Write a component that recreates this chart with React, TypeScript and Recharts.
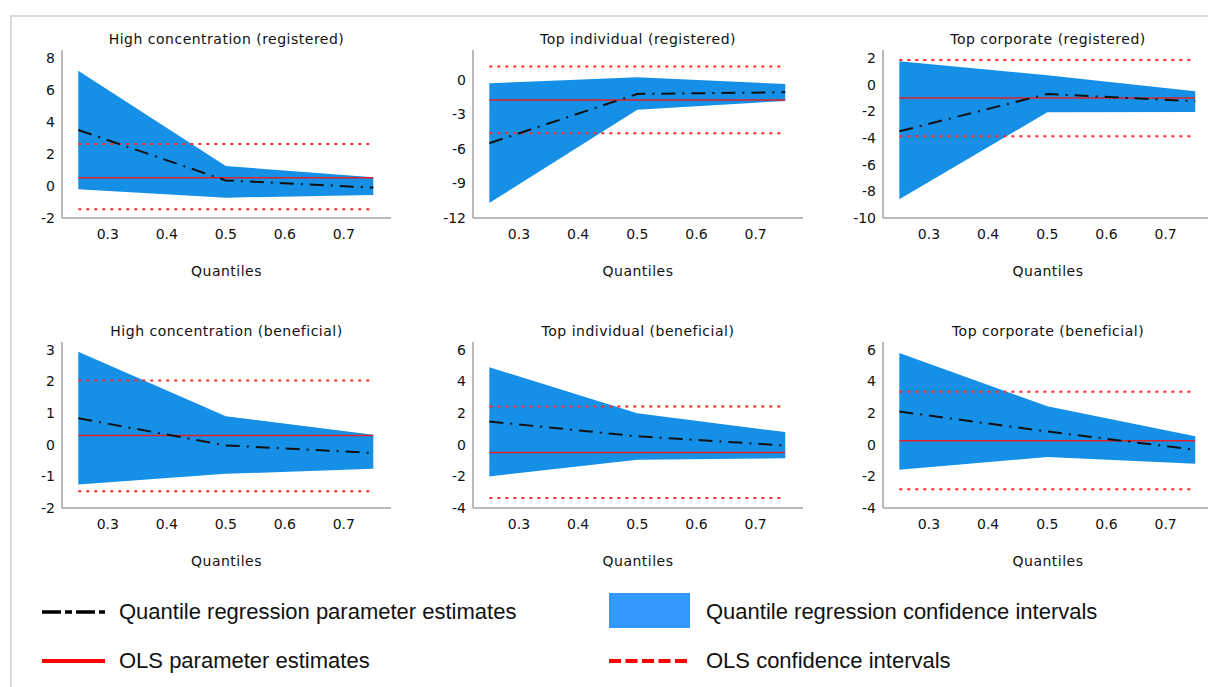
import * as React from 'react';
import { ComposedChart, Area, Line, XAxis, YAxis } from 'recharts';

// quantiles on the x axis
const quantiles = [0.25, 0.5, 0.75];
const xTicks = [0.3, 0.4, 0.5, 0.6, 0.7];

// High concentration (registered)
const hcRegEst = [3.5, 0.35, -0.1];
const hcRegLow = [-0.2, -0.73, -0.56];
const hcRegHigh = [7.2, 1.25, 0.55];
const hcRegOls = 0.52;
const hcRegOlsCi = [-1.46, 2.62];
const hcRegTicks = [-2, 0, 2, 4, 6, 8];

// Top individual (registered)
const tiRegEst = [-5.5, -1.22, -1.07];
const tiRegLow = [-10.7, -2.6, -1.83];
const tiRegHigh = [-0.29, 0.23, -0.35];
const tiRegOls = -1.74;
const tiRegOlsCi = [-4.64, 1.16];
const tiRegTicks = [-12, -9, -6, -3, 0];

// Top corporate (registered)
const tcRegEst = [-3.5, -0.7, -1.25];
const tcRegLow = [-8.6, -2.07, -2.05];
const tcRegHigh = [1.75, 0.7, -0.5];
const tcRegOls = -1.0;
const tcRegOlsCi = [-3.87, 1.85];
const tcRegTicks = [-10, -8, -6, -4, -2, 0, 2];

// High concentration (beneficial)
const hcBenEst = [0.84, -0.02, -0.26];
const hcBenLow = [-1.26, -0.92, -0.76];
const hcBenHigh = [2.94, 0.9, 0.32];
const hcBenOls = 0.29;
const hcBenOlsCi = [-1.47, 2.03];
const hcBenTicks = [-2, -1, 0, 1, 2, 3];

// Top individual (beneficial)
const tiBenEst = [1.47, 0.54, -0.05];
const tiBenLow = [-2.0, -0.95, -0.85];
const tiBenHigh = [4.9, 2.0, 0.8];
const tiBenOls = -0.49;
const tiBenOlsCi = [-3.37, 2.42];
const tiBenTicks = [-4, -2, 0, 2, 4, 6];

// Top corporate (beneficial)
const tcBenEst = [2.1, 0.84, -0.32];
const tcBenLow = [-1.58, -0.78, -1.2];
const tcBenHigh = [5.8, 2.44, 0.54];
const tcBenOls = 0.25;
const tcBenOlsCi = [-2.82, 3.35];
const tcBenTicks = [-4, -2, 0, 2, 4, 6];

const BLUE = '#1590e6';
const RED = '#e0202a';
const AXIS = '#a3a3a3';
const TXT = '#111';
const FONT = '"DejaVu Sans", Verdana, sans-serif';

const buildRows = (est: number[], low: number[], high: number[], ols: number, olsCi: number[]) =>
  quantiles.map((q, i) => ({
    q,
    est: est[i],
    ci: [low[i], high[i]],
    ols,
    olsLow: olsCi[0],
    olsHigh: olsCi[1],
  }));

interface PanelProps {
  title: string;
  left: number;
  top: number;
  plotW: number;
  plotH: number;
  yDomain: [number, number];
  yTicks: number[];
  rows: ReturnType<typeof buildRows>;
}

const Panel = ({ title, left, top, plotW, plotH, yDomain, yTicks, rows }: PanelProps) => {
  const yW = 50;
  const mTop = 10;
  const xH = 30;
  const tickStyle = { fontSize: 14, fill: TXT, fontFamily: FONT };
  return (
    <>
      <div style={{ position: 'absolute', left, top: top - 19, width: plotW, textAlign: 'center', fontSize: 14, letterSpacing: 0.5, color: TXT, fontFamily: FONT, lineHeight: '16px' }}>
        {title}
      </div>
      <div style={{ position: 'absolute', left: left - yW, top: top - mTop }}>
        <ComposedChart width={plotW + yW + 5} height={plotH + mTop + xH} data={rows} margin={{ top: mTop, right: 5, left: 0, bottom: 0 }}>
          <XAxis
            dataKey="q"
            type="number"
            domain={[0.2224, 0.78]}
            allowDataOverflow
            ticks={xTicks}
            tickFormatter={(v: number) => v.toFixed(1)}
            tickLine={false}
            tickMargin={5}
            height={xH}
            axisLine={{ stroke: AXIS, strokeWidth: 1.5 }}
            tick={tickStyle}
          />
          <YAxis
            type="number"
            domain={yDomain}
            allowDataOverflow
            ticks={yTicks}
            tickLine={false}
            tickMargin={1}
            width={yW}
            axisLine={{ stroke: AXIS, strokeWidth: 1.5 }}
            tick={tickStyle}
          />
          <Area dataKey="ci" type="linear" fill={BLUE} fillOpacity={1} stroke="none" isAnimationActive={false} />
          <Line dataKey="olsHigh" type="linear" stroke="#ff2a2a" strokeWidth={2} strokeDasharray="3 5" dot={false} isAnimationActive={false} />
          <Line dataKey="olsLow" type="linear" stroke="#ff2a2a" strokeWidth={2} strokeDasharray="3 5" dot={false} isAnimationActive={false} />
          <Line dataKey="ols" type="linear" stroke={RED} strokeWidth={1.5} dot={false} isAnimationActive={false} />
          <Line dataKey="est" type="linear" stroke="#111" strokeWidth={2} strokeDasharray="14 7 2 7" dot={false} isAnimationActive={false} />
        </ComposedChart>
      </div>
      <div style={{ position: 'absolute', left, top: top + plotH + 45, width: plotW, textAlign: 'center', fontSize: 14, letterSpacing: 0.5, color: TXT, fontFamily: FONT, lineHeight: '16px' }}>
        Quantiles
      </div>
    </>
  );
};

const legendText = { position: 'absolute' as const, fontSize: 22, fontFamily: '"Liberation Sans", Arial, sans-serif', color: '#111', lineHeight: '24px' };

export default function App() {
  return (
    <div style={{ position: 'absolute', left: 0, top: 0, width: 1208, height: 687, overflow: 'hidden', background: '#fff' }}>
      <div style={{ position: 'absolute', left: 10, top: 15, width: 1200, height: 680, borderTop: '2px solid #dadada', borderLeft: '2px solid #dadada' }} />
      <Panel title="High concentration (registered)" left={62} top={50} plotW={329} plotH={168} yDomain={[-2, 8.5]} yTicks={hcRegTicks} rows={buildRows(hcRegEst, hcRegLow, hcRegHigh, hcRegOls, hcRegOlsCi)} />
      <Panel title="Top individual (registered)" left={473} top={50} plotW={330} plotH={168} yDomain={[-12, 2.6]} yTicks={tiRegTicks} rows={buildRows(tiRegEst, tiRegLow, tiRegHigh, tiRegOls, tiRegOlsCi)} />
      <Panel title="Top corporate (registered)" left={883} top={50} plotW={330} plotH={168} yDomain={[-10, 2.6]} yTicks={tcRegTicks} rows={buildRows(tcRegEst, tcRegLow, tcRegHigh, tcRegOls, tcRegOlsCi)} />
      <Panel title="High concentration (beneficial)" left={62} top={342} plotW={329} plotH={166} yDomain={[-2, 3.25]} yTicks={hcBenTicks} rows={buildRows(hcBenEst, hcBenLow, hcBenHigh, hcBenOls, hcBenOlsCi)} />
      <Panel title="Top individual (beneficial)" left={473} top={342} plotW={330} plotH={166} yDomain={[-4, 6.5]} yTicks={tiBenTicks} rows={buildRows(tiBenEst, tiBenLow, tiBenHigh, tiBenOls, tiBenOlsCi)} />
      <Panel title="Top corporate (beneficial)" left={883} top={342} plotW={330} plotH={166} yDomain={[-4, 6.5]} yTicks={tcBenTicks} rows={buildRows(tcBenEst, tcBenLow, tcBenHigh, tcBenOls, tcBenOlsCi)} />

      <svg style={{ position: 'absolute', left: 0, top: 580 }} width={1208} height={100}>
        <line x1={42} x2={105} y1={32} y2={32} stroke="#000" strokeWidth={3.5} strokeDasharray="19 4 7 4" />
        <rect x={609} y={13} width={81} height={35} fill="#3399ff" />
        <line x1={42} x2={105} y1={81} y2={81} stroke="#ff0000" strokeWidth={4} />
        <line x1={609} x2={690} y1={81} y2={81} stroke="#ff0000" strokeWidth={4} strokeDasharray="12 4.5" />
      </svg>
      <div style={{ ...legendText, left: 119, top: 600 }}>Quantile regression parameter estimates</div>
      <div style={{ ...legendText, left: 706, top: 600 }}>Quantile regression confidence intervals</div>
      <div style={{ ...legendText, left: 119, top: 649 }}>OLS parameter estimates</div>
      <div style={{ ...legendText, left: 706, top: 649 }}>OLS confidence intervals</div>
    </div>
  );
}
